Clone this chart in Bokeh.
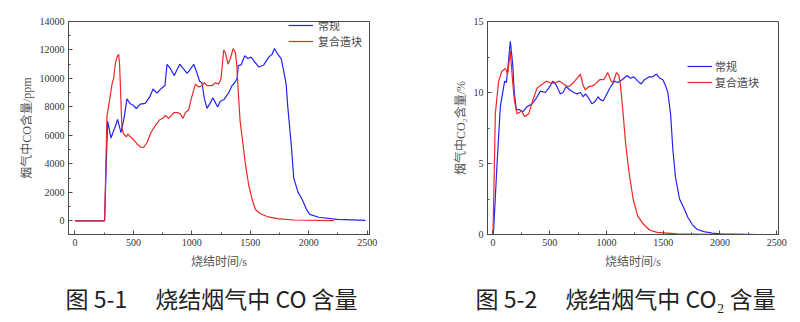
from bokeh.plotting import figure
from bokeh.layouts import row
from bokeh.models import Legend, LegendItem, SingleIntervalTicker, Title
from bokeh.embed import file_html
from bokeh.resources import INLINE

# ---------------- data: CO (ppm) ----------------
co_conv_t = [0, 254, 268, 280, 308, 340, 365, 394, 420, 445, 474, 502, 525, 559, 602, 640, 668, 702,
             739, 770, 788, 816, 850, 896, 936, 959, 988, 1016, 1039, 1067, 1087, 1107, 1130, 1159,
             1179, 1202, 1221, 1244, 1273, 1316, 1344, 1367, 1387, 1398, 1421, 1453, 1478, 1507,
             1535, 1573, 1615, 1658, 1687, 1707, 1735, 1764, 1787, 1807, 1821, 1849, 1872, 1909,
             1944, 1981, 2009, 2086, 2243, 2486]
co_conv_v = [0, 0, 4000, 6990, 5820, 6500, 7120, 6200, 7200, 8560, 8220, 8100, 7890, 8200, 8250, 8700,
             9260, 8970, 9300, 9500, 10990, 10700, 10200, 11000, 10600, 10350, 10650, 11000, 10500,
             9800, 9700, 8600, 7900, 8300, 8650, 8300, 8000, 8400, 8500, 9000, 9500, 9700, 10000,
             10900, 10950, 11600, 11400, 11500, 11200, 10800, 10950, 11500, 11700, 12100, 11700,
             11400, 10500, 9600, 8000, 5500, 3000, 2000, 1500, 800, 450, 250, 100, 30]

co_comp_t = [0, 254, 274, 297, 317, 331, 345, 360, 374, 382, 391, 402, 417, 440, 454, 474, 502, 531,
             559, 588, 617, 651, 688, 725, 753, 773, 802, 845, 879, 902, 925, 945, 973, 993, 1030,
             1059, 1087, 1107, 1130, 1173, 1202, 1230, 1250, 1273, 1287, 1310, 1330, 1353, 1373,
             1384, 1398, 1413, 1436, 1458, 1487, 1516, 1544, 1587, 1644, 1730, 1872, 2215]
co_comp_v = [0, 0, 7350, 8500, 9600, 10000, 11000, 11500, 11700, 11000, 9000, 6500, 6100, 5900, 6100,
             5900, 5700, 5400, 5200, 5150, 5500, 6200, 6700, 7100, 7200, 7400, 7200, 7600, 7600, 7500,
             7200, 7600, 7800, 8500, 9600, 9400, 9500, 9700, 9500, 9500, 9700, 9600, 10000, 12000,
             11800, 11000, 11400, 12100, 11800, 11000, 9000, 7000, 5500, 4000, 2500, 1500, 800, 500,
             300, 150, 60, 20]

# ---------------- data: CO2 (%) ----------------
co2_conv_t = [0, 6, 35, 65, 103, 118, 129, 153, 174, 188, 206, 229, 265, 300, 344, 382, 418, 462, 491,
              529, 559, 594, 618, 644, 676, 712, 741, 771, 794, 815, 844, 873, 903, 926, 947, 971, 991,
              1029, 1071, 1100, 1138, 1182, 1212, 1241, 1276, 1306, 1335, 1373, 1403, 1441, 1470, 1497,
              1520, 1541, 1565, 1585, 1609, 1644, 1691, 1718, 1756, 1800, 1859, 1932, 2006, 2330]
co2_conv_v = [0, 0.3, 4.8, 9.0, 10.8, 10.7, 11.5, 13.6, 12.0, 10.0, 8.8, 8.8, 8.65, 9.0, 9.2, 9.6,
              10.1, 10.0, 10.3, 10.8, 10.5, 9.9, 10.0, 10.4, 10.2, 10.0, 9.9, 10.0, 9.7, 9.9, 9.6, 9.2,
              9.4, 9.7, 9.5, 9.4, 9.7, 10.3, 10.8, 10.7, 10.9, 11.2, 11.0, 11.1, 10.8, 10.6, 10.9,
              11.1, 11.1, 11.3, 11.0, 10.9, 10.5, 10.0, 8.5, 6.0, 4.0, 2.5, 1.7, 1.2, 0.7, 0.35, 0.2,
              0.1, 0.05, 0.0]

co2_comp_t = [0, 8, 21, 50, 79, 109, 129, 153, 171, 188, 212, 235, 253, 279, 315, 353, 388, 418, 471,
              500, 535, 588, 638, 668, 697, 741, 771, 794, 815, 844, 888, 941, 976, 1012, 1041, 1059,
              1088, 1109, 1124, 1147, 1168, 1197, 1235, 1276, 1329, 1382, 1447, 1623, 2006]
co2_comp_v = [0, 3.0, 8.5, 10.8, 11.5, 11.7, 11.3, 12.9, 11.0, 9.5, 8.5, 8.6, 8.7, 8.3, 8.5, 9.5, 10.3,
              10.5, 10.8, 10.7, 10.65, 10.8, 10.5, 10.4, 10.6, 11.0, 11.3, 10.5, 10.2, 10.4, 10.5,
              10.9, 10.9, 11.4, 10.8, 10.7, 11.4, 11.2, 10.5, 8.5, 6.5, 4.5, 2.5, 1.3, 0.7, 0.3, 0.15,
              0.05, 0.0]

series_names = ["常规", "复合造块"]
x_label = "烧结时间/s"
y_label_co = "烟气中CO含量/ppm"
y_label_co2 = "烟气中CO₂含量/%"
caption_co = "图 5-1\u3000 烧结烟气中 CO 含量"
caption_co2 = "图 5-2\u3000 烧结烟气中 CO₂ 含量"

BLUE = "#2424ee"
RED = "#ee2626"
FRAME = "#4a4a4a"
SERIF = "Times New Roman, Liberation Serif, serif"
LABEL_FONT = "Times New Roman, Liberation Serif, Noto Sans CJK SC"
CJK = "Noto Sans CJK SC"


def style(p, xint, yint, ystandoff):
    p.xgrid.visible = False
    p.ygrid.visible = False
    p.outline_line_color = FRAME
    p.outline_line_width = 1
    p.background_fill_color = "white"
    p.border_fill_color = "white"
    p.xaxis.ticker = SingleIntervalTicker(interval=xint, num_minor_ticks=2)
    p.yaxis.ticker = SingleIntervalTicker(interval=yint, num_minor_ticks=2)
    for ax in (p.xaxis[0], p.yaxis[0]):
        ax.axis_line_color = FRAME
        ax.major_tick_line_color = FRAME
        ax.minor_tick_line_color = FRAME
        ax.major_tick_in = 4
        ax.major_tick_out = 0
        ax.minor_tick_in = 2
        ax.minor_tick_out = 0
        ax.major_label_text_font = SERIF
        ax.major_label_text_font_size = "10px"
        ax.major_label_text_color = "#333333"
        ax.axis_label_text_font = LABEL_FONT
        ax.axis_label_text_font_size = "12px"
        ax.axis_label_text_font_style = "normal"
        ax.axis_label_text_color = "#555555"
        ax.major_label_standoff = 4
    p.yaxis.formatter.use_scientific = False
    p.xaxis.axis_label_standoff = 6
    p.yaxis.axis_label_standoff = ystandoff


def add_legend_item(p, label, r, loc, standoff):
    leg = Legend(items=[LegendItem(label=label, renderers=[r])], location=loc)
    leg.border_line_color = None
    leg.background_fill_alpha = 0
    leg.padding = 0
    leg.margin = 0
    leg.spacing = 0
    leg.glyph_width = 25
    leg.glyph_height = 12
    leg.label_height = 12
    leg.label_standoff = standoff
    leg.label_text_font = CJK
    leg.label_text_font_size = "11px"
    leg.label_text_color = "#444444"
    p.add_layout(leg)


def add_caption(p, text, offset):
    t = Title(text=text, align="left", offset=offset, standoff=15,
              text_font=CJK, text_font_size="23px", text_font_style="normal",
              text_color="#222222")
    p.add_layout(t, "below")


# ---------------- figure 1: CO ----------------
p1 = figure(width=400, height=322, x_range=(-55, 2520), y_range=(-960, 14000),
            output_backend="svg", toolbar_location=None,
            min_border_left=68, min_border_right=31, min_border_top=12, min_border_bottom=88,
            x_axis_label=x_label, y_axis_label=y_label_co)
style(p1, 500, 2000, 3)
b1 = p1.line(co_conv_t, co_conv_v, line_color=BLUE, line_width=1.2)
r1 = p1.line(co_comp_t, co_comp_v, line_color=RED, line_width=1.2)
add_legend_item(p1, series_names[0], b1, (220, 201), 5)
add_legend_item(p1, series_names[1], r1, (220, 185), 5)
add_caption(p1, caption_co, -3)

# ---------------- figure 2: CO2 ----------------
p2 = figure(width=400, height=322, x_range=(-48, 2516), y_range=(0, 15),
            output_backend="svg", toolbar_location=None,
            min_border_left=87, min_border_right=22, min_border_top=21, min_border_bottom=87,
            x_axis_label=x_label, y_axis_label=y_label_co2)
style(p2, 500, 5, 3)
b2 = p2.line(co2_conv_t, co2_conv_v, line_color=BLUE, line_width=1.2)
r2 = p2.line(co2_comp_t, co2_comp_v, line_color=RED, line_width=1.2)
add_legend_item(p2, series_names[0], b2, (200, 160), 3)
add_legend_item(p2, series_names[1], r2, (200, 144), 3)
add_caption(p2, caption_co2, -12)

layout = row(p1, p2, spacing=0)
open("out.html", "w").write(file_html(layout, INLINE))
